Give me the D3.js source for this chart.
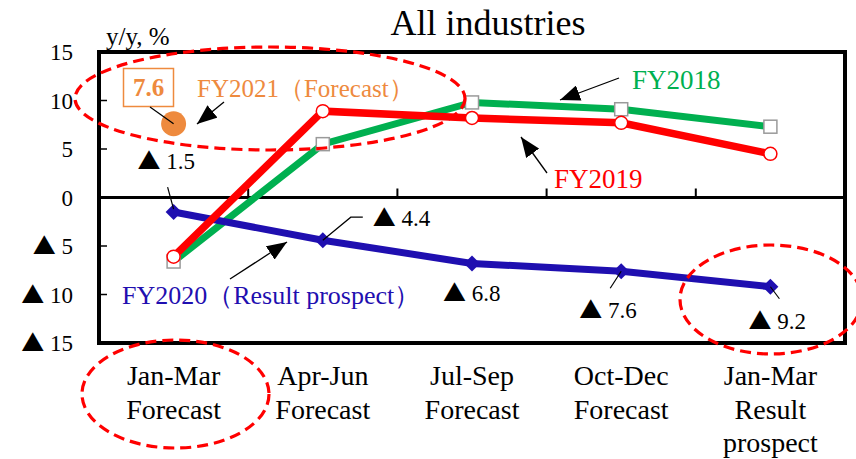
<!DOCTYPE html>
<html>
<head>
<meta charset="utf-8">
<script src="https://cdn.jsdelivr.net/npm/d3@7/dist/d3.min.js"></script>
<style>
  html, body { margin: 0; padding: 0; background: #fff; }
  svg { display: block; font-family: "Liberation Serif", "Times New Roman", serif; }
  .tri { font-family: "Noto Sans CJK JP", "DejaVu Sans", sans-serif; }
</style>
</head>
<body>
<svg id="chart" width="856" height="459"></svg>
<script>
// Quarterly y/y change, all industries (%)
const categories = [
  ["Jan-Mar", "Forecast"],
  ["Apr-Jun", "Forecast"],
  ["Jul-Sep", "Forecast"],
  ["Oct-Dec", "Forecast"],
  ["Jan-Mar", "Result", "prospect"]
];
const fy2018 = [-6.6, 5.5, 9.8, 9.1, 7.3];
const fy2019 = [-6.1, 8.9, 8.2, 7.7, 4.5];
const fy2020 = [-1.5, -4.4, -6.8, -7.6, -9.2];
const fy2021 = [7.6];
const yTicks = [15, 10, 5, 0, -5, -10, -15];

const colors = { g: "#00B050", r: "#FF0000", b: "#1F0FB0", o: "#EE8A3E" };

const svg = d3.select("#chart");
const plotL = 99, plotR = 845, plotT = 52, plotB = 343;

const x = d3.scaleBand().domain(d3.range(categories.length)).range([plotL, plotR]).padding(0);
const cx = i => x(i) + x.bandwidth() / 2;
const y = d3.scaleLinear().domain([-15, 15]).range([plotB, plotT]);

// Negative numbers are written with a leading black triangle
function writeValue(textSel, v) {
  textSel.text(null);
  if (v < 0) {
    textSel.append("tspan").attr("class", "tri").text("\u25B2");
    textSel.append("tspan").text(" " + (-v));
  } else {
    textSel.append("tspan").text(String(v));
  }
}

// Title
svg.append("text").attr("x", 488).attr("y", 35).attr("text-anchor", "middle")
  .attr("font-size", 36).text("All industries");

// Unit label
svg.append("text").attr("x", 106).attr("y", 45).attr("font-size", 25).text("y/y, %");

// Y axis tick labels
svg.append("g").selectAll("text").data(yTicks).join("text")
  .attr("x", 73).attr("y", d => y(d)).attr("dy", "0.35em")
  .attr("text-anchor", "end").attr("font-size", 23)
  .each(function (d) { writeValue(d3.select(this), d); });

// Inner tick marks on the left frame
svg.append("g").selectAll("line").data(yTicks.filter(d => Math.abs(d) !== 15 && d !== 0)).join("line")
  .attr("x1", plotL).attr("x2", plotL + 8).attr("y1", d => y(d)).attr("y2", d => y(d))
  .attr("stroke", "#000").attr("stroke-width", 1.5);

// Zero line with category separators
svg.append("line").attr("x1", plotL).attr("x2", plotR).attr("y1", y(0)).attr("y2", y(0))
  .attr("stroke", "#000").attr("stroke-width", 3);
svg.append("g").selectAll("line").data(d3.range(1, categories.length)).join("line")
  .attr("x1", d => x(d)).attr("x2", d => x(d))
  .attr("y1", y(0)).attr("y2", y(0) - 9)
  .attr("stroke", "#000").attr("stroke-width", 2);

// Category labels
const catG = svg.append("g").selectAll("text").data(categories).join("text")
  .attr("x", (d, i) => cx(i)).attr("y", 385)
  .attr("text-anchor", "middle").attr("font-size", 28);
catG.selectAll("tspan").data(d => d).join("tspan")
  .attr("x", function () { return d3.select(this.parentNode).attr("x"); })
  .attr("dy", (d, i) => i === 0 ? 0 : 33.5)
  .text(d => d);

// Series lines
const line = d3.line().x((d, i) => cx(i)).y(d => y(d));
svg.append("path").datum(fy2018).attr("d", line)
  .attr("fill", "none").attr("stroke", colors.g).attr("stroke-width", 7);
svg.append("path").datum(fy2020).attr("d", line)
  .attr("fill", "none").attr("stroke", colors.b).attr("stroke-width", 7);
svg.append("path").datum(fy2019).attr("d", line)
  .attr("fill", "none").attr("stroke", colors.r).attr("stroke-width", 7.5);

// FY2018 markers: white squares
svg.append("g").selectAll("rect").data(fy2018).join("rect")
  .attr("x", (d, i) => cx(i) - 6.5).attr("y", d => y(d) - 6.5)
  .attr("width", 13).attr("height", 13)
  .attr("fill", "#fff").attr("stroke", "#9a9a9a").attr("stroke-width", 1.5);

// FY2020 markers: diamonds
svg.append("g").selectAll("path").data(fy2020).join("path")
  .attr("d", (d, i) => {
    const px = cx(i), py = y(d), s = 8;
    return `M${px},${py - s}L${px + s},${py}L${px},${py + s}L${px - s},${py}Z`;
  })
  .attr("fill", colors.b);

// FY2019 markers: white circles
svg.append("g").selectAll("circle").data(fy2019).join("circle")
  .attr("cx", (d, i) => cx(i)).attr("cy", d => y(d)).attr("r", 6.5)
  .attr("fill", "#fff").attr("stroke", colors.r).attr("stroke-width", 1.5);

// FY2021 forecast point
svg.append("circle").attr("cx", cx(0)).attr("cy", y(fy2021[0])).attr("r", 12.5)
  .attr("fill", colors.o);

// Value box for FY2021
svg.append("rect").attr("x", 123.5).attr("y", 68.5).attr("width", 50).attr("height", 38)
  .attr("fill", "#fff").attr("stroke", colors.o).attr("stroke-width", 1.5);
svg.append("text").attr("x", 148.5).attr("y", 96).attr("text-anchor", "middle")
  .attr("font-size", 25).attr("font-weight", "bold").attr("fill", colors.o)
  .text(fy2021[0].toFixed(1));
svg.append("line").attr("x1", 150).attr("y1", 107).attr("x2", cx(0)).attr("y2", y(fy2021[0]))
  .attr("stroke", "#000").attr("stroke-width", 1.2);

// Arrowhead marker
svg.append("defs").append("marker").attr("id", "arrow")
  .attr("viewBox", "0 0 20 16").attr("refX", 20).attr("refY", 8)
  .attr("markerWidth", 20).attr("markerHeight", 16)
  .attr("markerUnits", "userSpaceOnUse").attr("orient", "auto")
  .append("path").attr("d", "M0,0L20,8L0,16Z").attr("fill", "#000");

const arrows = [
  [224, 102, 197, 124],
  [619, 78, 560, 100],
  [547, 173, 521, 137],
  [230, 279, 287, 242]
];
svg.append("g").selectAll("line").data(arrows).join("line")
  .attr("x1", d => d[0]).attr("y1", d => d[1]).attr("x2", d => d[2]).attr("y2", d => d[3])
  .attr("stroke", "#000").attr("stroke-width", 1.3).attr("marker-end", "url(#arrow)");

// Series labels
svg.append("text").attr("x", 197).attr("y", 97).attr("font-size", 25).attr("fill", colors.o)
  .text("FY2021（Forecast）");
svg.append("text").attr("x", 632).attr("y", 89).attr("font-size", 27).attr("fill", colors.g)
  .text("FY2018");
svg.append("text").attr("x", 554).attr("y", 188).attr("font-size", 27).attr("fill", colors.r)
  .text("FY2019");
svg.append("text").attr("x", 122).attr("y", 304).attr("font-size", 26).attr("fill", colors.b)
  .text("FY2020（Result prospect）");

// FY2020 value labels with leader lines (offsets relative to each point)
const fy2020Labels = [
  { dx: -36, dy: -43, lead: [[-6, -25], [0, -3]] },
  { dx: 50, dy: -14, lead: [[0, 0], [28, -23], [40, -23]] },
  { dx: -29, dy: 38, lead: null },
  { dx: -42, dy: 47, lead: [[0, 0], [-11, 17]] },
  { dx: -22, dy: 42, lead: [[0, 0], [9, 12]] }
];
fy2020Labels.forEach((l, i) => {
  const px = cx(i), py = y(fy2020[i]);
  const t = svg.append("text").attr("x", px + l.dx).attr("y", py + l.dy).attr("font-size", 23);
  writeValue(t, fy2020[i]);
  if (l.lead) {
    svg.append("path")
      .attr("d", d3.line()(l.lead.map(p => [px + p[0], py + p[1]])))
      .attr("fill", "none").attr("stroke", "#000").attr("stroke-width", 1.2);
  }
});

// Plot frame
svg.append("rect").attr("x", plotL).attr("y", plotT).attr("width", plotR - plotL).attr("height", plotB - plotT)
  .attr("fill", "none").attr("stroke", "#000").attr("stroke-width", 4);

// Dashed highlight ellipses
const ellipses = [
  [270, 98.5, 195, 51.5],
  [175.5, 394, 93.5, 54],
  [771, 299.5, 91, 54.5]
];
svg.append("g").selectAll("ellipse").data(ellipses).join("ellipse")
  .attr("cx", d => d[0]).attr("cy", d => d[1]).attr("rx", d => d[2]).attr("ry", d => d[3])
  .attr("fill", "none").attr("stroke", colors.r).attr("stroke-width", 3.2)
  .attr("stroke-dasharray", "11,6");
</script>
</body>
</html>
